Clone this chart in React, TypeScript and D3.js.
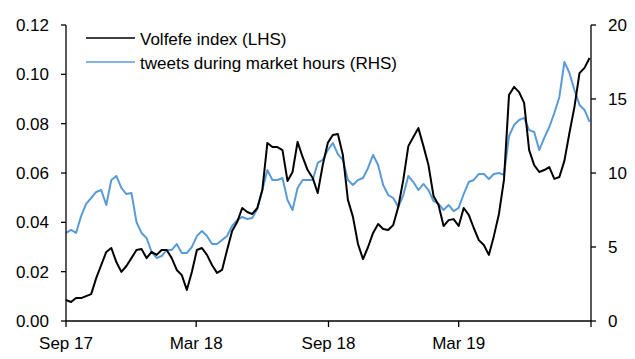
import React from "react";
import * as d3 from "d3";

// Weekly samples starting 1 Sep 2017
const startDate = "2017-09-01";
const volfefe = [
  0.0085, 0.0077, 0.0093, 0.0093, 0.0101, 0.0109, 0.0174, 0.0227, 0.028, 0.0296,
  0.0239, 0.0199, 0.0223, 0.0255, 0.0288, 0.0292, 0.0255, 0.028, 0.0268, 0.0288,
  0.0288, 0.0255, 0.0207, 0.0186, 0.0126, 0.0199, 0.0288, 0.0296, 0.0268, 0.0227,
  0.0195, 0.0207, 0.0288, 0.0365, 0.0401, 0.0458, 0.0442, 0.0434, 0.0458, 0.0531,
  0.0722, 0.0705, 0.0705, 0.0693, 0.0568, 0.0604, 0.0726, 0.0665, 0.0612, 0.058,
  0.0519, 0.0632, 0.0722, 0.0754, 0.0758, 0.0673, 0.0491, 0.0422, 0.0312, 0.0251,
  0.03, 0.0357, 0.0393, 0.0373, 0.0369, 0.0389, 0.0462, 0.0572, 0.0709, 0.0746,
  0.0782, 0.0709, 0.0632, 0.0507, 0.047, 0.0385, 0.0409, 0.0413, 0.0385, 0.0458,
  0.043, 0.0377, 0.0328, 0.0308, 0.0268, 0.0345, 0.0434, 0.0572, 0.0916, 0.0949,
  0.0928, 0.0884, 0.0693, 0.0632, 0.0604, 0.0612, 0.0624, 0.0576, 0.0584, 0.0649,
  0.0762, 0.0868, 0.1005, 0.1026, 0.1066,
];
const tweets = [
  5.95, 6.15, 5.95, 7.09, 7.91, 8.31, 8.72, 8.85, 7.84, 9.53,
  9.8, 8.99, 8.58, 8.65, 6.69, 5.95, 5.61, 4.66, 4.26, 4.39,
  4.8, 4.8, 5.2, 4.59, 4.59, 5.0, 5.74, 6.08, 5.74, 5.2,
  5.2, 5.47, 5.74, 6.42, 6.82, 7.03, 6.89, 6.96, 7.57, 8.85,
  10.2, 9.53, 9.53, 9.66, 8.18, 7.5, 8.99, 9.53, 9.53, 9.53,
  10.68, 10.88, 11.55, 12.03, 11.28, 10.88, 9.53, 9.19, 9.53, 9.66,
  10.34, 11.22, 10.54, 9.19, 8.51, 8.31, 7.7, 8.51, 9.8, 9.39,
  8.85, 9.26, 8.85, 8.11, 7.91, 7.5, 7.84, 7.43, 7.64, 8.58,
  9.39, 9.53, 9.93, 9.93, 9.59, 9.93, 10.0, 9.87, 12.5, 13.24,
  13.58, 13.72, 12.9, 12.77, 11.55, 12.37, 13.11, 14.05, 15.14, 17.5,
  16.76, 15.61, 14.6, 14.26, 13.45,
];
const leftTicks = [0, 0.02, 0.04, 0.06, 0.08, 0.1, 0.12];
const rightTicks = [0, 5, 10, 15, 20];
const xTickDates = ["2017-09-01", "2018-03-01", "2018-09-01", "2019-03-01", "2019-09-01"];
const xTickLabels = ["Sep 17", "Mar 18", "Sep 18", "Mar 19", ""];
const seriesNames = ["Volfefe index (LHS)", "tweets during market hours (RHS)"];

const parse = d3.timeParse("%Y-%m-%d");
const FONT = "'Liberation Sans', Arial, sans-serif";

export default function App() {
  const W = 635, H = 359;
  const left = 66, right = 591, top = 25, bottom = 321;
  const start = parse(startDate)!;
  const dates = volfefe.map((_, i) => d3.timeDay.offset(start, i * 7));
  const x = d3.scaleTime().domain([parse(xTickDates[0])!, parse(xTickDates[4])!]).range([left, right]);
  const yL = d3.scaleLinear().domain([0, 0.12]).range([bottom, top]);
  const yR = d3.scaleLinear().domain([0, 20]).range([bottom, top]);

  const lineL = d3.line<number>().x((_, i) => x(dates[i])).y((d) => yL(d));
  const lineR = d3.line<number>().x((_, i) => x(dates[i])).y((d) => yR(d));

  const blue = "#5b9bd5";
  const fs = 17;

  return (
    <svg width={W} height={H} style={{ position: "fixed", left: 0, top: 0, background: "#fff" }} fontFamily={FONT}>
      <rect width={W} height={H} fill="#fff" />
      <path d={lineR(tweets) || ""} fill="none" stroke={blue} strokeWidth={2} strokeLinejoin="round" />
      <path d={lineL(volfefe) || ""} fill="none" stroke="#000" strokeWidth={2} strokeLinejoin="round" />

      {/* left axis */}
      <line x1={left} x2={left} y1={top} y2={bottom} stroke="#000" strokeWidth={1.3} />
      {leftTicks.map((t) => (
        <g key={"l" + t}>
          <line x1={left - 5} x2={left} y1={yL(t)} y2={yL(t)} stroke="#000" strokeWidth={1.3} />
          <text x={49} y={yL(t)} dy="0.35em" textAnchor="end" fontSize={fs} fill="#000">
            {d3.format(".2f")(t)}
          </text>
        </g>
      ))}
      {/* right axis */}
      <line x1={right} x2={right} y1={top} y2={bottom} stroke="#000" strokeWidth={1.3} />
      {rightTicks.map((t) => (
        <g key={"r" + t}>
          <line x1={right} x2={right + 5} y1={yR(t)} y2={yR(t)} stroke="#000" strokeWidth={1.3} />
          <text x={608} y={yR(t)} dy="0.35em" textAnchor="start" fontSize={fs} fill="#000">
            {t}
          </text>
        </g>
      ))}
      {/* bottom axis */}
      <line x1={left} x2={right} y1={bottom} y2={bottom} stroke="#000" strokeWidth={1.3} />
      {xTickDates.map((d, i) => {
        const xx = x(parse(d)!);
        return (
          <g key={"x" + d}>
            <line x1={xx} x2={xx} y1={bottom} y2={bottom + 6} stroke="#000" strokeWidth={1.3} />
            <text x={xx} y={349} textAnchor="middle" fontSize={fs} fill="#000">
              {xTickLabels[i]}
            </text>
          </g>
        );
      })}

      {/* legend */}
      <line x1={86} x2={135} y1={38} y2={38} stroke="#000" strokeWidth={1.5} />
      <text x={140} y={39} dy="0.35em" fontSize={fs} fill="#000">{seriesNames[0]}</text>
      <line x1={86} x2={135} y1={62} y2={62} stroke={blue} strokeWidth={1.5} />
      <text x={140} y={63} dy="0.35em" fontSize={fs} fill="#000">{seriesNames[1]}</text>
    </svg>
  );
}
